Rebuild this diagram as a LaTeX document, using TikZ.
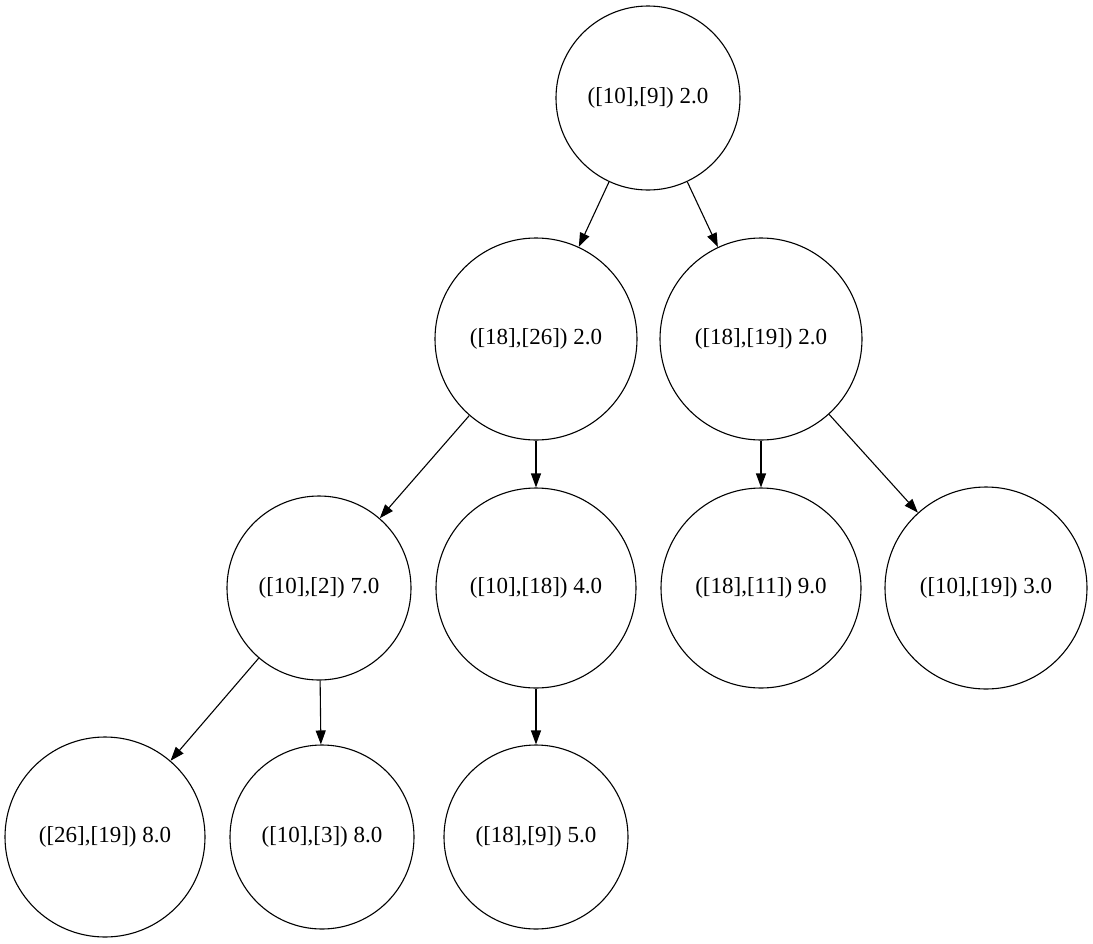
\documentclass[tikz,border=0pt]{standalone}
\usepackage{fontspec}
\setmainfont{Liberation Serif}
\usetikzlibrary{arrows.meta}
\begin{document}
\begin{tikzpicture}[x=1pt,y=-1pt,
  tnode/.style={draw, circle, inner sep=0pt, line width=1.1pt,
    font=\fontsize{23}{27}\selectfont},
  edge/.style={line width=1.1pt, -{Triangle[length=14pt,width=10pt]}}]
\useasboundingbox (0,0) rectangle (1093,943);
% tree nodes
\node[tnode, minimum size=184pt] (r)   at (648,98)  {([10],[9]) 2.0};
\node[tnode, minimum size=202pt] (a)   at (536,339) {([18],[26]) 2.0};
\node[tnode, minimum size=202pt] (b)   at (761,339) {([18],[19]) 2.0};
\node[tnode, minimum size=184pt] (c)   at (319,588) {([10],[2]) 7.0};
\node[tnode, minimum size=200pt] (d)   at (536,588) {([10],[18]) 4.0};
\node[tnode, minimum size=200pt] (e)   at (761,588) {([18],[11]) 9.0};
\node[tnode, minimum size=202pt] (f)   at (986,588) {([10],[19]) 3.0};
\node[tnode, minimum size=200pt] (g)   at (105,837) {([26],[19]) 8.0};
\node[tnode, minimum size=184pt] (h)   at (322,837) {([10],[3]) 8.0};
\node[tnode, minimum size=184pt] (i)   at (536,837) {([18],[9]) 5.0};
% edges
\draw[edge] (r) -- (a);
\draw[edge] (r) -- (b);
\draw[edge] (a) -- (c);
\draw[edge] (a) -- (d);
\draw[edge] (b) -- (e);
\draw[edge] (b) -- (f);
\draw[edge] (c) -- (g);
\draw[edge] (c) -- (h);
\draw[edge] (d) -- (i);
\end{tikzpicture}
\end{document}
